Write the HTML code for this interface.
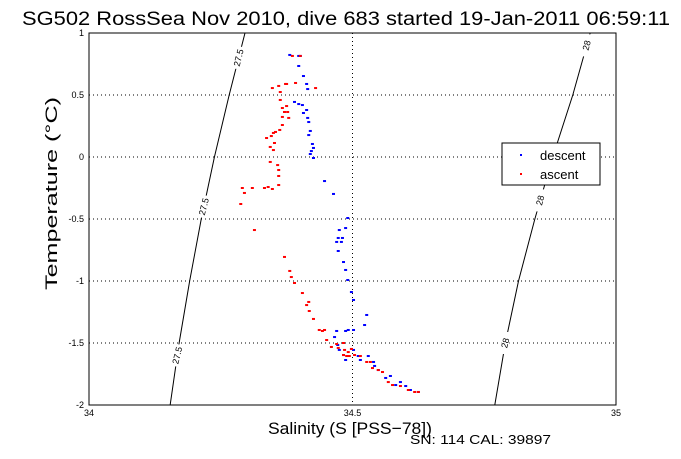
<!DOCTYPE html>
<html><head><meta charset="utf-8"><style>
body{margin:0;background:#fff;width:681px;height:454px;overflow:hidden}
svg{font-family:"Liberation Sans",sans-serif}
</style></head><body>
<svg id="chart" width="681" height="454">
<text x="22" y="25" font-size="19" textLength="648" lengthAdjust="spacingAndGlyphs">SG502 RossSea Nov 2010, dive 683 started 19-Jan-2011 06:59:11</text>
<rect x="89" y="33" width="527" height="372" fill="#fff" stroke="#000" stroke-width="1"/>
<g id="grid"></g><g id="contours"></g><g id="marks"></g><g id="ticks"></g>
<text x="268" y="434" font-size="17" textLength="164" lengthAdjust="spacingAndGlyphs">Salinity (S [PSS−78])</text>
<text transform="translate(57,290) rotate(-90)" font-size="17" textLength="193" lengthAdjust="spacingAndGlyphs">Temperature (°C)</text>
<text x="410" y="444" font-size="13" textLength="141" lengthAdjust="spacingAndGlyphs">SN: 114  CAL: 39897</text>
<g>
<rect x="502" y="143" width="98" height="42" fill="#fff" stroke="#000"/>
<g><rect x="520" y="154" width="2" height="2" fill="#00f"/><text x="540" y="160" font-size="13">descent</text></g>
<g><rect x="520" y="173" width="2" height="2" fill="#f00"/><text x="540" y="179" font-size="13">ascent</text></g>
</g>
</svg>
<script>
const xTicks=[34,34.5,35];
const yTicks=[1,0.5,0,-0.5,-1,-1.5,-2];
const yTickLabels=["1","0.5","0","-0.5","-1","-1.5","-2"];
const descentS=[34.380,34.397,34.400,34.397,34.406,34.412,34.414,34.389,34.397,34.404,34.412,34.406,34.414,34.416,34.419,34.416,34.423,34.425,34.421,34.419,34.425,34.446,34.463,34.490,34.486,34.480,34.478,34.474,34.472,34.469,34.472,34.482,34.486,34.490,34.497,34.501,34.526,34.522,34.491,34.501,34.486,34.469,34.465,34.471,34.474,34.482,34.486,34.501,34.510,34.514,34.529,34.539,34.541,34.548,34.562,34.571,34.581,34.590,34.600,34.609,34.624];
const descentT=[0.823,0.815,0.815,0.734,0.653,0.589,0.548,0.444,0.427,0.419,0.379,0.355,0.315,0.282,0.210,0.177,0.105,0.073,0.048,0.024,-0.008,-0.194,-0.298,-0.492,-0.573,-0.653,-0.685,-0.589,-0.653,-0.685,-0.758,-0.847,-0.911,-0.992,-1.089,-1.153,-1.274,-1.355,-1.395,-1.395,-1.403,-1.403,-1.452,-1.516,-1.556,-1.597,-1.637,-1.556,-1.605,-1.637,-1.605,-1.653,-1.685,-1.718,-1.782,-1.766,-1.839,-1.815,-1.847,-1.879,-1.895];
const ascentS=[34.385,34.400,34.372,34.359,34.347,34.374,34.391,34.429,34.362,34.362,34.366,34.370,34.376,34.366,34.374,34.378,34.366,34.361,34.353,34.349,34.345,34.336,34.351,34.343,34.349,34.343,34.357,34.359,34.359,34.347,34.339,34.359,34.332,34.309,34.290,34.294,34.287,34.313,34.370,34.380,34.383,34.389,34.404,34.416,34.412,34.417,34.425,34.436,34.442,34.446,34.450,34.459,34.469,34.472,34.484,34.491,34.482,34.497,34.488,34.493,34.482,34.514,34.526,34.503,34.533,34.537,34.548,34.556,34.567,34.575,34.590,34.605,34.617,34.624];
const ascentT=[0.815,0.815,0.589,0.573,0.556,0.589,0.597,0.556,0.524,0.460,0.395,0.363,0.363,0.323,0.411,0.315,0.258,0.218,0.202,0.194,0.169,0.153,0.113,0.081,0.056,-0.040,-0.065,-0.105,-0.153,-0.258,-0.242,-0.226,-0.250,-0.250,-0.250,-0.290,-0.379,-0.589,-0.806,-0.919,-0.968,-1.016,-1.097,-1.169,-1.194,-1.242,-1.306,-1.395,-1.403,-1.395,-1.476,-1.532,-1.508,-1.540,-1.556,-1.573,-1.500,-1.548,-1.605,-1.605,-1.597,-1.605,-1.653,-1.597,-1.653,-1.702,-1.718,-1.734,-1.815,-1.839,-1.847,-1.879,-1.895,-1.895];
const contourT=[1,0.5,0,-0.5,-1,-1.5,-2];
const contour275S=[34.296,34.266,34.238,34.213,34.191,34.171,34.154];
const contour28S=[34.951,34.918,34.880,34.846,34.815,34.790,34.770];
const contourLabelT=[[0.8,-0.4,-1.6],[0.9,-0.35,-1.5]];
const NS="http://www.w3.org/2000/svg";
const X=s=>89+(s-34)*527, Y=t=>33+(1-t)*124;
function mk(tag,attrs,parent){const e=document.createElementNS(NS,tag);for(const k in attrs)e.setAttribute(k,attrs[k]);document.getElementById(parent).appendChild(e);return e;}
[34.5].forEach(s=>{const l=mk('line',{x1:X(s),x2:X(s),y1:33,y2:405,stroke:'#000','stroke-dasharray':'1,3'},'grid');

});
[0.5,0,-0.5,-1,-1.5].forEach(t=>{const l=mk('line',{x1:89,x2:616,y1:Y(t),y2:Y(t),stroke:'#000','stroke-dasharray':'1,3'},'grid');

});
xTicks.forEach(s=>{const t=mk('text',{x:X(s),y:416,'font-size':9,'text-anchor':'middle'},'ticks');t.textContent=String(s);

});
yTicks.forEach((v,i)=>{const t=mk('text',{x:84,y:Y(v)+3,'font-size':9,'text-anchor':'end'},'ticks');t.textContent=yTickLabels[i];

});
[[contour275S,"27.5"],[contour28S,"28"]].forEach(([arr,lab],ci)=>{
 const pts=arr.map((s,i)=>X(s)+','+Y(contourT[i])).join(' ');
 const p=mk('polyline',{points:pts,fill:'none',stroke:'#000','stroke-width':1},'contours');
 
 
 contourLabelT[ci].forEach(t=>{
  let i=0;while(i<contourT.length-2&&contourT[i+1]>t)i++;
  const f=(contourT[i]-t)/(contourT[i]-contourT[i+1]);const s=arr[i]+(arr[i+1]-arr[i])*f;
  const x=X(s),y=Y(t);
  const r=mk('rect',{x:x-4,y:y-11,width:8,height:22,fill:'#fff'},'contours');
  
  
  const tx=mk('text',{x:x,y:y+3,'font-size':9,'text-anchor':'middle',transform:`rotate(-76 ${x} ${y})`},'contours');tx.textContent=lab;
  
  
 });
});
descentS.forEach((s,i)=>{const r=mk('rect',{x:X(s)-1,y:Y(descentT[i])-1,width:3,height:2,fill:'#00f'},'marks');

});
ascentS.forEach((s,i)=>{const r=mk('rect',{x:X(s)-1,y:Y(ascentT[i])-1,width:3,height:2,fill:'#f00'},'marks');

});
</script>
</body></html>
